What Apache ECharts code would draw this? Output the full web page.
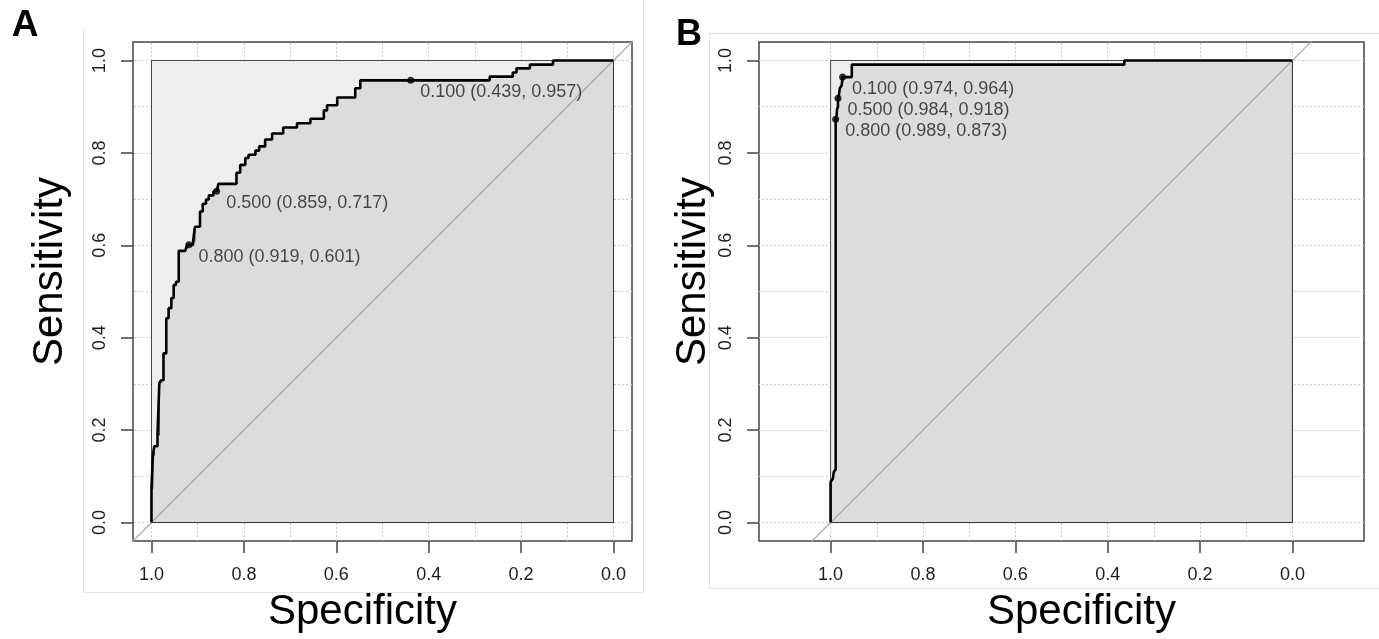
<!DOCTYPE html>
<html><head><meta charset="utf-8">
<script src="https://cdn.jsdelivr.net/npm/echarts@6/dist/echarts.min.js"></script>
<style>html,body{margin:0;padding:0;background:#fff}#c{width:1379px;height:639px}</style>
</head><body><div id="c"></div>
<script>
// ---------- data ----------
const tickValues = [0, 0.2, 0.4, 0.6, 0.8, 1.0];
const gridValues = [0, 0.1, 0.2, 0.3, 0.4, 0.5, 0.6, 0.7, 0.8, 0.9, 1.0];

// Panel A ROC curve: [specificity, sensitivity]
const rocA = [
  [1.000,0.000],[1.000,0.074],[0.997,0.074],[0.997,0.145],[0.994,0.145],[0.994,0.165],
  [0.987,0.165],[0.987,0.189],[0.983,0.189],[0.983,0.302],[0.979,0.302],[0.979,0.308],
  [0.974,0.308],[0.974,0.366],[0.968,0.366],[0.968,0.442],[0.963,0.442],[0.963,0.464],
  [0.957,0.464],[0.957,0.486],[0.952,0.486],[0.952,0.514],[0.947,0.514],[0.947,0.521],
  [0.941,0.521],[0.941,0.588],[0.927,0.588],[0.927,0.592],[0.923,0.592],[0.923,0.601],
  [0.919,0.601],[0.910,0.601],[0.910,0.608],[0.906,0.608],[0.906,0.640],[0.895,0.640],
  [0.895,0.673],[0.889,0.673],[0.889,0.690],[0.882,0.690],[0.882,0.699],[0.876,0.699],
  [0.876,0.708],[0.866,0.708],[0.866,0.717],[0.859,0.717],[0.855,0.717],[0.855,0.733],
  [0.816,0.733],[0.816,0.757],[0.808,0.757],[0.808,0.774],[0.797,0.774],[0.797,0.789],
  [0.790,0.789],[0.790,0.796],[0.775,0.796],[0.775,0.805],[0.767,0.805],[0.767,0.814],
  [0.754,0.814],[0.754,0.829],[0.739,0.829],[0.739,0.842],[0.715,0.842],[0.715,0.855],
  [0.685,0.855],[0.685,0.864],[0.656,0.864],[0.656,0.874],[0.627,0.874],[0.627,0.892],
  [0.620,0.892],[0.620,0.903],[0.598,0.903],[0.598,0.920],[0.559,0.920],[0.559,0.940],
  [0.548,0.940],[0.548,0.957],[0.439,0.957],[0.268,0.957],[0.268,0.965],[0.218,0.965],
  [0.218,0.974],[0.210,0.974],[0.210,0.983],[0.181,0.983],[0.181,0.991],[0.131,0.991],
  [0.131,1.000],[0.000,1.000]
];
const thrA = [0.1, 0.5, 0.8];
const thrSpecA = [0.439, 0.859, 0.919];
const thrSensA = [0.957, 0.717, 0.601];
const aucA = 0.866;

// Panel B ROC curve
const rocB = [
  [1.000,0.000],[1.000,0.088],[0.995,0.095],[0.993,0.110],[0.989,0.115],[0.989,0.873],
  [0.987,0.880],[0.986,0.895],[0.984,0.900],[0.984,0.918],[0.982,0.925],[0.980,0.940],
  [0.976,0.946],[0.974,0.950],[0.974,0.964],[0.954,0.964],[0.954,0.991],[0.364,0.991],
  [0.364,1.000],[0.000,1.000]
];
const thrB = [0.1, 0.5, 0.8];
const thrSpecB = [0.974, 0.984, 0.989];
const thrSensB = [0.964, 0.918, 0.873];
const aucB = 0.983;

const xRangeA = [-0.04, 1.04];
const xRangeB = [-0.155, 1.155];
const yRange = [-0.04, 1.04];

// ---------- helpers ----------
const FONT = "'Liberation Sans', Arial, Helvetica, sans-serif";

function polygonSeries(points, idx, fill, stroke, lw, z) {
  return {
    type: 'custom', xAxisIndex: idx, yAxisIndex: idx, z: z, silent: true,
    data: points,
    renderItem: function (params, api) {
      if (params.dataIndex !== 0) return;
      const pts = points.map(p => api.coord(p));
      return { type: 'polygon', shape: { points: pts }, style: { fill: fill, stroke: stroke, lineWidth: lw } };
    }
  };
}

function panelSeries(idx, roc, thr, tSpec, tSens, auc, xr) {
  return [
    { // grid lines
      type: 'line', xAxisIndex: idx, yAxisIndex: idx, z: 1, silent: true,
      data: [], showSymbol: false,
      markLine: {
        z: 1, silent: true, symbol: ['none', 'none'], label: { show: false },
        lineStyle: { color: '#cccccc', type: [2, 2], width: 1 },
        data: gridValues.map(v => ({ xAxis: v })).concat(gridValues.map(v => ({ yAxis: v })))
      }
    },
    polygonSeries([[1, 0], [1, 1], [0, 1], [0, 0]], idx, '#EEEEEE', '#444', 1, 2),
    polygonSeries(roc.concat([[0, 0]]), idx, '#DCDCDC', '#333', 1, 3),
    { // identity line
      type: 'line', xAxisIndex: idx, yAxisIndex: idx, z: 4, silent: true, clip: true,
      data: [[xr[1], 1 - xr[1]], [xr[0], 1 - xr[0]]], showSymbol: false,
      lineStyle: { color: '#A9A9A9', width: 1.2 }
    },
    { // ROC curve
      type: 'line', xAxisIndex: idx, yAxisIndex: idx, z: 5, silent: true,
      data: roc, showSymbol: false,
      lineStyle: { color: '#000', width: 2.6 }
    },
    { // thresholds
      type: 'scatter', xAxisIndex: idx, yAxisIndex: idx, z: 6, silent: true,
      data: tSpec.map((s, i) => [s, tSens[i], thr[i]]),
      symbolSize: 7, itemStyle: { color: '#000' },
      label: {
        show: true, position: [13, 15.5], align: 'left', verticalAlign: 'middle',
        fontSize: 18, fontFamily: FONT, color: '#1e1e1e',
        formatter: p => p.value[2].toFixed(3) + ' (' + p.value[0].toFixed(3) + ', ' + p.value[1].toFixed(3) + ')'
      }
    },
    { // AUC text
      type: 'scatter', xAxisIndex: idx, yAxisIndex: idx, z: 6, silent: true,
      data: [[0.5, 0.5]], symbolSize: 1, itemStyle: { opacity: 0 },
      label: {
        show: true, position: [0, 0], align: 'left', verticalAlign: 'top',
        fontSize: 18, fontFamily: FONT, color: '#1e1e1e',
        formatter: () => 'AUC: ' + auc.toFixed(3)
      }
    }
  ];
}

function xAxisCfg(idx, xr, pad) {
  return {
    gridIndex: idx, type: 'value', min: xr[0], max: xr[1], inverse: true,
    axisLine: { show: false, onZero: false },
    axisTick: { show: true, inside: false, length: 12, customValues: tickValues, lineStyle: { color: '#444', width: 1.5 } },
    axisLabel: { customValues: tickValues, formatter: v => v.toFixed(1), margin: 25, fontSize: 18, color: '#1e1e1e', fontFamily: FONT },
    splitLine: { show: false },
    name: 'Specificity', nameLocation: 'middle', nameGap: 50,
    nameTextStyle: { fontSize: 42, color: '#000', fontFamily: FONT, padding: pad }
  };
}
function yAxisCfg(idx, gap) {
  return {
    gridIndex: idx, type: 'value', min: yRange[0], max: yRange[1],
    axisLine: { show: false, onZero: false },
    axisTick: { show: true, inside: false, length: 12, customValues: tickValues, lineStyle: { color: '#444', width: 1.5 } },
    axisLabel: { customValues: tickValues, formatter: v => v.toFixed(1), rotate: 90, margin: 24, fontSize: 18, color: '#1e1e1e', fontFamily: FONT },
    splitLine: { show: false },
    name: 'Sensitivity', nameLocation: 'middle', nameGap: gap,
    nameTextStyle: { fontSize: 42, color: '#000', fontFamily: FONT, padding: [0, 0, 0, 40] }
  };
}

const chart = echarts.init(document.getElementById('c'), null, { renderer: 'canvas' });
chart.setOption({
  animation: false,
  backgroundColor: '#fff',
  grid: [
    { left: 133, top: 42, width: 499, height: 499, show: true, borderColor: '#444', borderWidth: 1.5, backgroundColor: 'transparent', containLabel: false, outerBoundsMode: 'none' },
    { left: 759, top: 42, width: 605, height: 499, show: true, borderColor: '#444', borderWidth: 1.5, backgroundColor: 'transparent', containLabel: false, outerBoundsMode: 'none' }
  ],
  xAxis: [xAxisCfg(0, xRangeA, [0, 40, 0, 0]), xAxisCfg(1, xRangeB, [0, 0, 0, 40])],
  yAxis: [yAxisCfg(0, 62), yAxisCfg(1, 45)],
  graphic: [
    { type: 'line', silent: true, shape: { x1: 83.5, y1: 28, x2: 83.5, y2: 592.5 }, style: { stroke: '#e4e4e4', lineWidth: 1 } },
    { type: 'line', silent: true, shape: { x1: 83.5, y1: 592.5, x2: 643.5, y2: 592.5 }, style: { stroke: '#e4e4e4', lineWidth: 1 } },
    { type: 'line', silent: true, shape: { x1: 643.5, y1: 0, x2: 643.5, y2: 592.5 }, style: { stroke: '#e4e4e4', lineWidth: 1 } },
    { type: 'line', silent: true, shape: { x1: 709.5, y1: 33.5, x2: 1379, y2: 33.5 }, style: { stroke: '#d8d8d8', lineWidth: 1 } },
    { type: 'line', silent: true, shape: { x1: 709.5, y1: 33.5, x2: 709.5, y2: 588.5 }, style: { stroke: '#e4e4e4', lineWidth: 1 } },
    { type: 'line', silent: true, shape: { x1: 709.5, y1: 588.5, x2: 1379, y2: 588.5 }, style: { stroke: '#e4e4e4', lineWidth: 1 } },
    { type: 'text', silent: true, x: 25, y: 26, style: { text: 'A', font: "bold 37px 'Liberation Sans', Arial, sans-serif", fill: '#000', align: 'center', verticalAlign: 'middle', textAlign: 'center', textVerticalAlign: 'middle' } },
    { type: 'text', silent: true, x: 689, y: 35, style: { text: 'B', font: "bold 36px 'Liberation Sans', Arial, sans-serif", fill: '#000', align: 'center', verticalAlign: 'middle', textAlign: 'center', textVerticalAlign: 'middle' } }
  ],
  series: panelSeries(0, rocA, thrA, thrSpecA, thrSensA, aucA, xRangeA)
    .concat(panelSeries(1, rocB, thrB, thrSpecB, thrSensB, aucB, xRangeB))
});
</script>
</body></html>
